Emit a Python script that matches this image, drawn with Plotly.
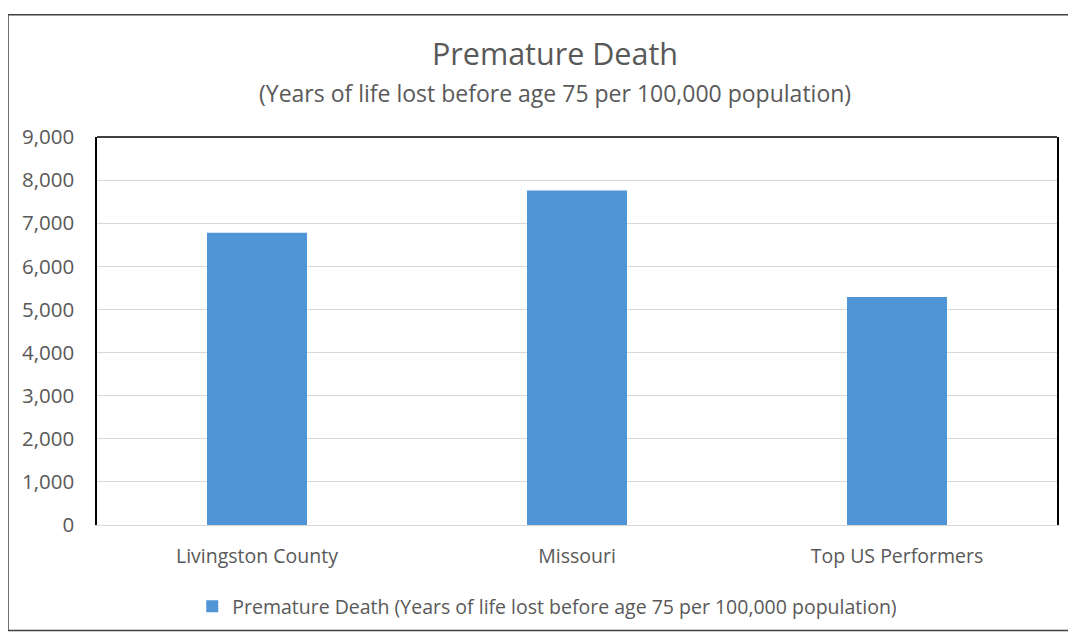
import plotly.graph_objects as go

categories = ["Livingston County", "Missouri", "Top US Performers"]
values = [6780, 7760, 5290]
series_name = "Premature Death (Years of life lost before age 75 per 100,000 population)"
title_text = "Premature Death"
subtitle_text = "(Years of life lost before age 75 per 100,000 population)"
tick_vals = [0, 1000, 2000, 3000, 4000, 5000, 6000, 7000, 8000, 9000]

FONT = "Open Sans"
TXT = "#595959"

# page body adds an 8px offset; figure sized so plot area lands at x 97-1057, y 137-527
W, H = 1068, 630
L, T, PW, PH = 89, 129, 960, 390

fig = go.Figure()
fig.add_trace(go.Bar(
    x=categories, y=values, name=series_name,
    marker=dict(color="#5096d6", line=dict(width=0)),
    showlegend=True,
))

fig.update_layout(
    width=W, height=H,
    paper_bgcolor="white", plot_bgcolor="white",
    margin=dict(l=L, r=W - L - PW, t=T, b=H - T - PH),
    bargap=0.6875,
    font=dict(family=FONT, color=TXT, size=19),
    showlegend=True,
    legend=dict(orientation="h", x=0.469, xanchor="center", y=-0.16, yanchor="top",
                font=dict(family=FONT, size=19.5, color=TXT), itemwidth=30,
                bgcolor="rgba(0,0,0,0)"),
    annotations=[
        dict(text=title_text, xref="paper", yref="paper", x=0.477, y=1, yshift=(137 - 53),
             xanchor="center", yanchor="middle", showarrow=False,
             font=dict(family=FONT, size=30.5, color=TXT)),
        dict(text=subtitle_text, xref="paper", yref="paper", x=0.477, y=1, yshift=(137 - 93),
             xanchor="center", yanchor="middle", showarrow=False,
             font=dict(family=FONT, size=23, color=TXT)),
    ],
    shapes=[
        dict(type="rect", xref="paper", yref="paper",
             x0=-L / PW, x1=(W - L + 5) / PW, y0=-(625 - 519) / PH, y1=1 + (T - 6) / PH,
             line=dict(color="#404040", width=1.5), fillcolor="rgba(0,0,0,0)", layer="below"),
        dict(type="line", xref="paper", yref="paper", x0=0, x1=1, y0=1, y1=1,
             line=dict(color="black", width=1.5)),
    ],
)
fig.update_yaxes(
    range=[0, 9000], tickvals=tick_vals, tickformat=",d",
    showgrid=True, gridcolor="#d9d9d9", gridwidth=1,
    showline=True, linecolor="black", linewidth=1.5, mirror=True,
    zeroline=False, ticks="", ticklabelstandoff=17,
    tickfont=dict(family=FONT, size=20.5, color=TXT),
)
fig.update_xaxes(
    showline=True, linecolor="#d9d9d9", linewidth=1,
    ticks="", tickfont=dict(family=FONT, size=19.5, color=TXT),
    ticklabelstandoff=14,
)

fig.write_html("out.html")
